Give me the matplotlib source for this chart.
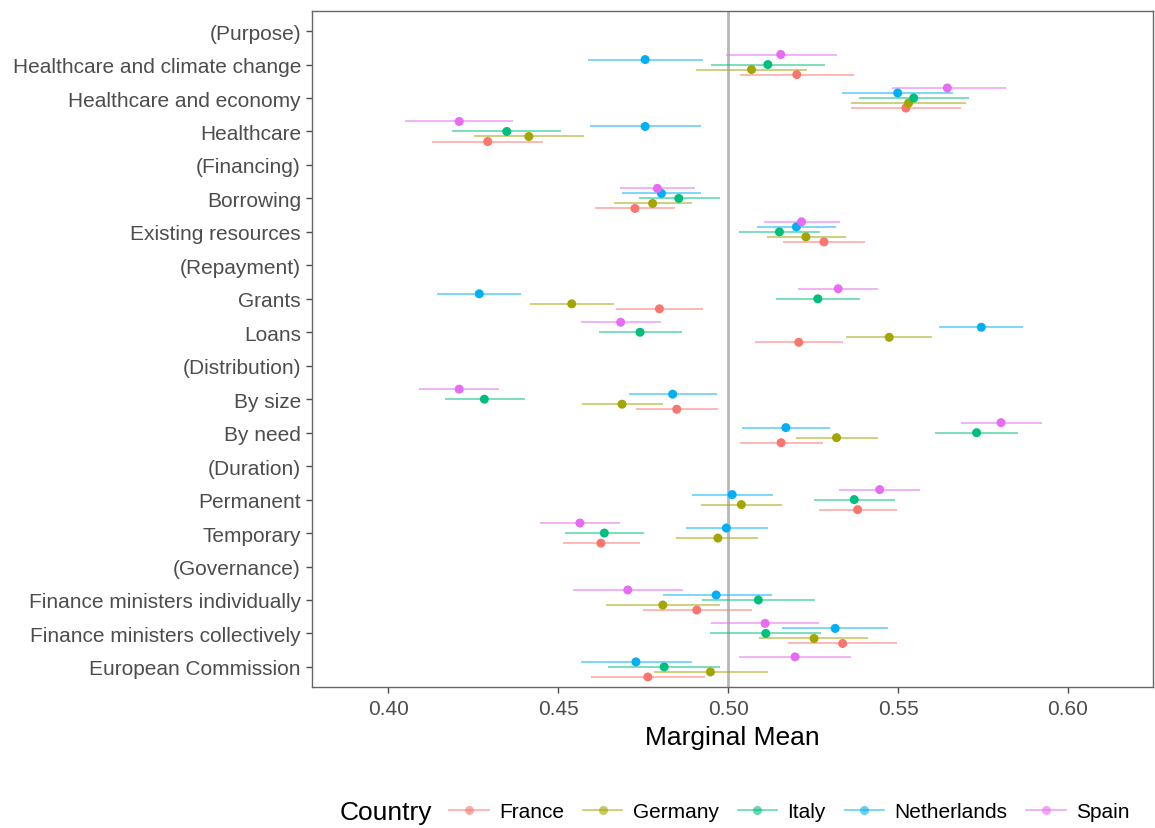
import numpy as np
import matplotlib
matplotlib.use("Agg")
import matplotlib.pyplot as plt
from matplotlib.lines import Line2D

plt.rcParams["font.family"] = ["Liberation Sans", "DejaVu Sans"]

# Attribute levels, top to bottom; bracketed entries are attribute headers
levels = [
    "(Purpose)", "Healthcare and climate change", "Healthcare and economy", "Healthcare",
    "(Financing)", "Borrowing", "Existing resources",
    "(Repayment)", "Grants", "Loans",
    "(Distribution)", "By size", "By need",
    "(Duration)", "Permanent", "Temporary",
    "(Governance)", "Finance ministers individually", "Finance ministers collectively",
    "European Commission",
]

countries = ["France", "Germany", "Italy", "Netherlands", "Spain"]
colors = ["#F8766D", "#A3A500", "#00BF7D", "#00B0F6", "#E76BF3"]

nan = np.nan
# Marginal means per country (header rows are empty)
france_est = [nan, 0.5202, 0.5523, 0.4293, nan, 0.4726, 0.5282, nan, 0.4798, 0.5208,
              nan, 0.4849, 0.5156, nan, 0.5381, 0.4626, nan, 0.4908, 0.5337, 0.4764]
france_lo = [nan, 0.5034, 0.5363, 0.4130, nan, 0.4608, 0.5162, nan, 0.4671, 0.5080,
             nan, 0.4728, 0.5036, nan, 0.5266, 0.4513, nan, 0.4749, 0.5176, 0.4597]
france_hi = [nan, 0.5369, 0.5685, 0.4455, nan, 0.4845, 0.5402, nan, 0.4927, 0.5339,
             nan, 0.4969, 0.5278, nan, 0.5497, 0.4741, nan, 0.5071, 0.5496, 0.4931]

germany_est = [nan, 0.5069, 0.5531, 0.4414, nan, 0.4778, 0.5229, nan, 0.4540, 0.5474,
               nan, 0.4688, 0.5319, nan, 0.5039, 0.4970, nan, 0.4808, 0.5253, 0.4948]
germany_lo = [nan, 0.4907, 0.5363, 0.4252, nan, 0.4664, 0.5114, nan, 0.4416, 0.5348,
              nan, 0.4569, 0.5199, nan, 0.4920, 0.4848, nan, 0.4642, 0.5091, 0.4782]
germany_hi = [nan, 0.5232, 0.5699, 0.4576, nan, 0.4893, 0.5346, nan, 0.4664, 0.5600,
              nan, 0.4808, 0.5442, nan, 0.5158, 0.5089, nan, 0.4977, 0.5413, 0.5117]

italy_est = [nan, 0.5117, 0.5546, 0.4349, nan, 0.4855, 0.5151, nan, 0.5264, 0.4741,
             nan, 0.4283, 0.5731, nan, 0.5371, 0.4636, nan, 0.5089, 0.5111, 0.4812]
italy_lo = [nan, 0.4951, 0.5384, 0.4189, nan, 0.4739, 0.5033, nan, 0.5141, 0.4620,
            nan, 0.4166, 0.5610, nan, 0.5253, 0.4519, nan, 0.4924, 0.4948, 0.4648]
italy_hi = [nan, 0.5284, 0.5709, 0.4508, nan, 0.4975, 0.5270, nan, 0.5388, 0.4864,
            nan, 0.4403, 0.5852, nan, 0.5490, 0.4754, nan, 0.5256, 0.5273, 0.4976]

netherlands_est = [nan, 0.4756, 0.5499, 0.4756, nan, 0.4804, 0.5201, nan, 0.4268, 0.5745,
                   nan, 0.4837, 0.5170, nan, 0.5012, 0.4995, nan, 0.4965, 0.5315, 0.4729]
netherlands_lo = [nan, 0.4587, 0.5335, 0.4593, nan, 0.4689, 0.5086, nan, 0.4144, 0.5621,
                  nan, 0.4710, 0.5040, nan, 0.4893, 0.4875, nan, 0.4808, 0.5158, 0.4567]
netherlands_hi = [nan, 0.4925, 0.5662, 0.4920, nan, 0.4920, 0.5317, nan, 0.4391, 0.5869,
                  nan, 0.4968, 0.5300, nan, 0.5131, 0.5116, nan, 0.5128, 0.5471, 0.4893]

spain_est = [nan, 0.5155, 0.5645, 0.4209, nan, 0.4792, 0.5216, nan, 0.5324, 0.4684,
             nan, 0.4209, 0.5803, nan, 0.5446, 0.4564, nan, 0.4705, 0.5109, 0.5197]
spain_lo = [nan, 0.4993, 0.5482, 0.4051, nan, 0.4683, 0.5105, nan, 0.5206, 0.4568,
            nan, 0.4092, 0.5686, nan, 0.5326, 0.4446, nan, 0.4544, 0.4950, 0.5032]
spain_hi = [nan, 0.5319, 0.5818, 0.4367, nan, 0.4902, 0.5328, nan, 0.5441, 0.4802,
            nan, 0.4326, 0.5922, nan, 0.5564, 0.4681, nan, 0.4868, 0.5268, 0.5363]

estimates = [france_est, germany_est, italy_est, netherlands_est, spain_est]
lowers = [france_lo, germany_lo, italy_lo, netherlands_lo, spain_lo]
uppers = [france_hi, germany_hi, italy_hi, netherlands_hi, spain_hi]

x_ticks = [0.40, 0.45, 0.50, 0.55, 0.60]

fig = plt.figure(figsize=(11.55, 8.29), dpi=100)
ax = fig.add_axes([312 / 1155, 1 - 688 / 829, (1153 - 312) / 1155, (688 - 12) / 829])

n = len(levels)
base_y = np.arange(n)[::-1].astype(float)
dodge = 0.75
offsets = (np.arange(len(countries)) - 2) * dodge / len(countries)

ax.axvline(0.5, color="#B8B8B8", lw=2.0, zorder=1)

for k, (name, col) in enumerate(zip(countries, colors)):
    est = np.array(estimates[k])
    lo = np.array(lowers[k])
    hi = np.array(uppers[k])
    y = base_y + offsets[k]
    ok = ~np.isnan(est)
    ax.hlines(y[ok], lo[ok], hi[ok], color=col, lw=1.2, alpha=0.6, zorder=2)
    ax.scatter(est[ok], y[ok], s=42, color=col, edgecolors="none", zorder=3)

ax.set_xlim(0.3776, 0.6250)
ax.set_ylim(-0.6, n - 0.4)
ax.set_yticks(base_y)
ax.set_yticklabels(levels)
ax.set_xticks(x_ticks)
ax.set_xticklabels([f"{v:.2f}" for v in x_ticks])
ax.tick_params(axis="both", colors="#4D4D4D", labelcolor="#4D4D4D", labelsize=15,
               length=4, width=1.0)
ax.tick_params(axis="x", pad=5)
ax.tick_params(axis="y", pad=4)
for s in ax.spines.values():
    s.set_color("#666666")
    s.set_linewidth(1.0)

ax.set_xlabel("Marginal Mean", fontsize=19, color="black", labelpad=5)

handles = [Line2D([0], [0], color=c, lw=1.2, marker="o", markersize=6.5,
                  markerfacecolor=c, markeredgecolor="none") for c in colors]
fig.text(340 / 1155, 1 - 813 / 829, "Country", fontsize=19, va="center", ha="left")
leg = fig.legend(handles, countries, loc="center left", bbox_to_anchor=(449 / 1155, 1 - 813 / 829),
                 ncol=5, frameon=False, fontsize=15, handlelength=1.9, handletextpad=0.5,
                 columnspacing=0.9, borderaxespad=0, borderpad=0)
for line in leg.get_lines():
    line.set_alpha(0.6)

fig.savefig("out.png", dpi=100, facecolor="white")
